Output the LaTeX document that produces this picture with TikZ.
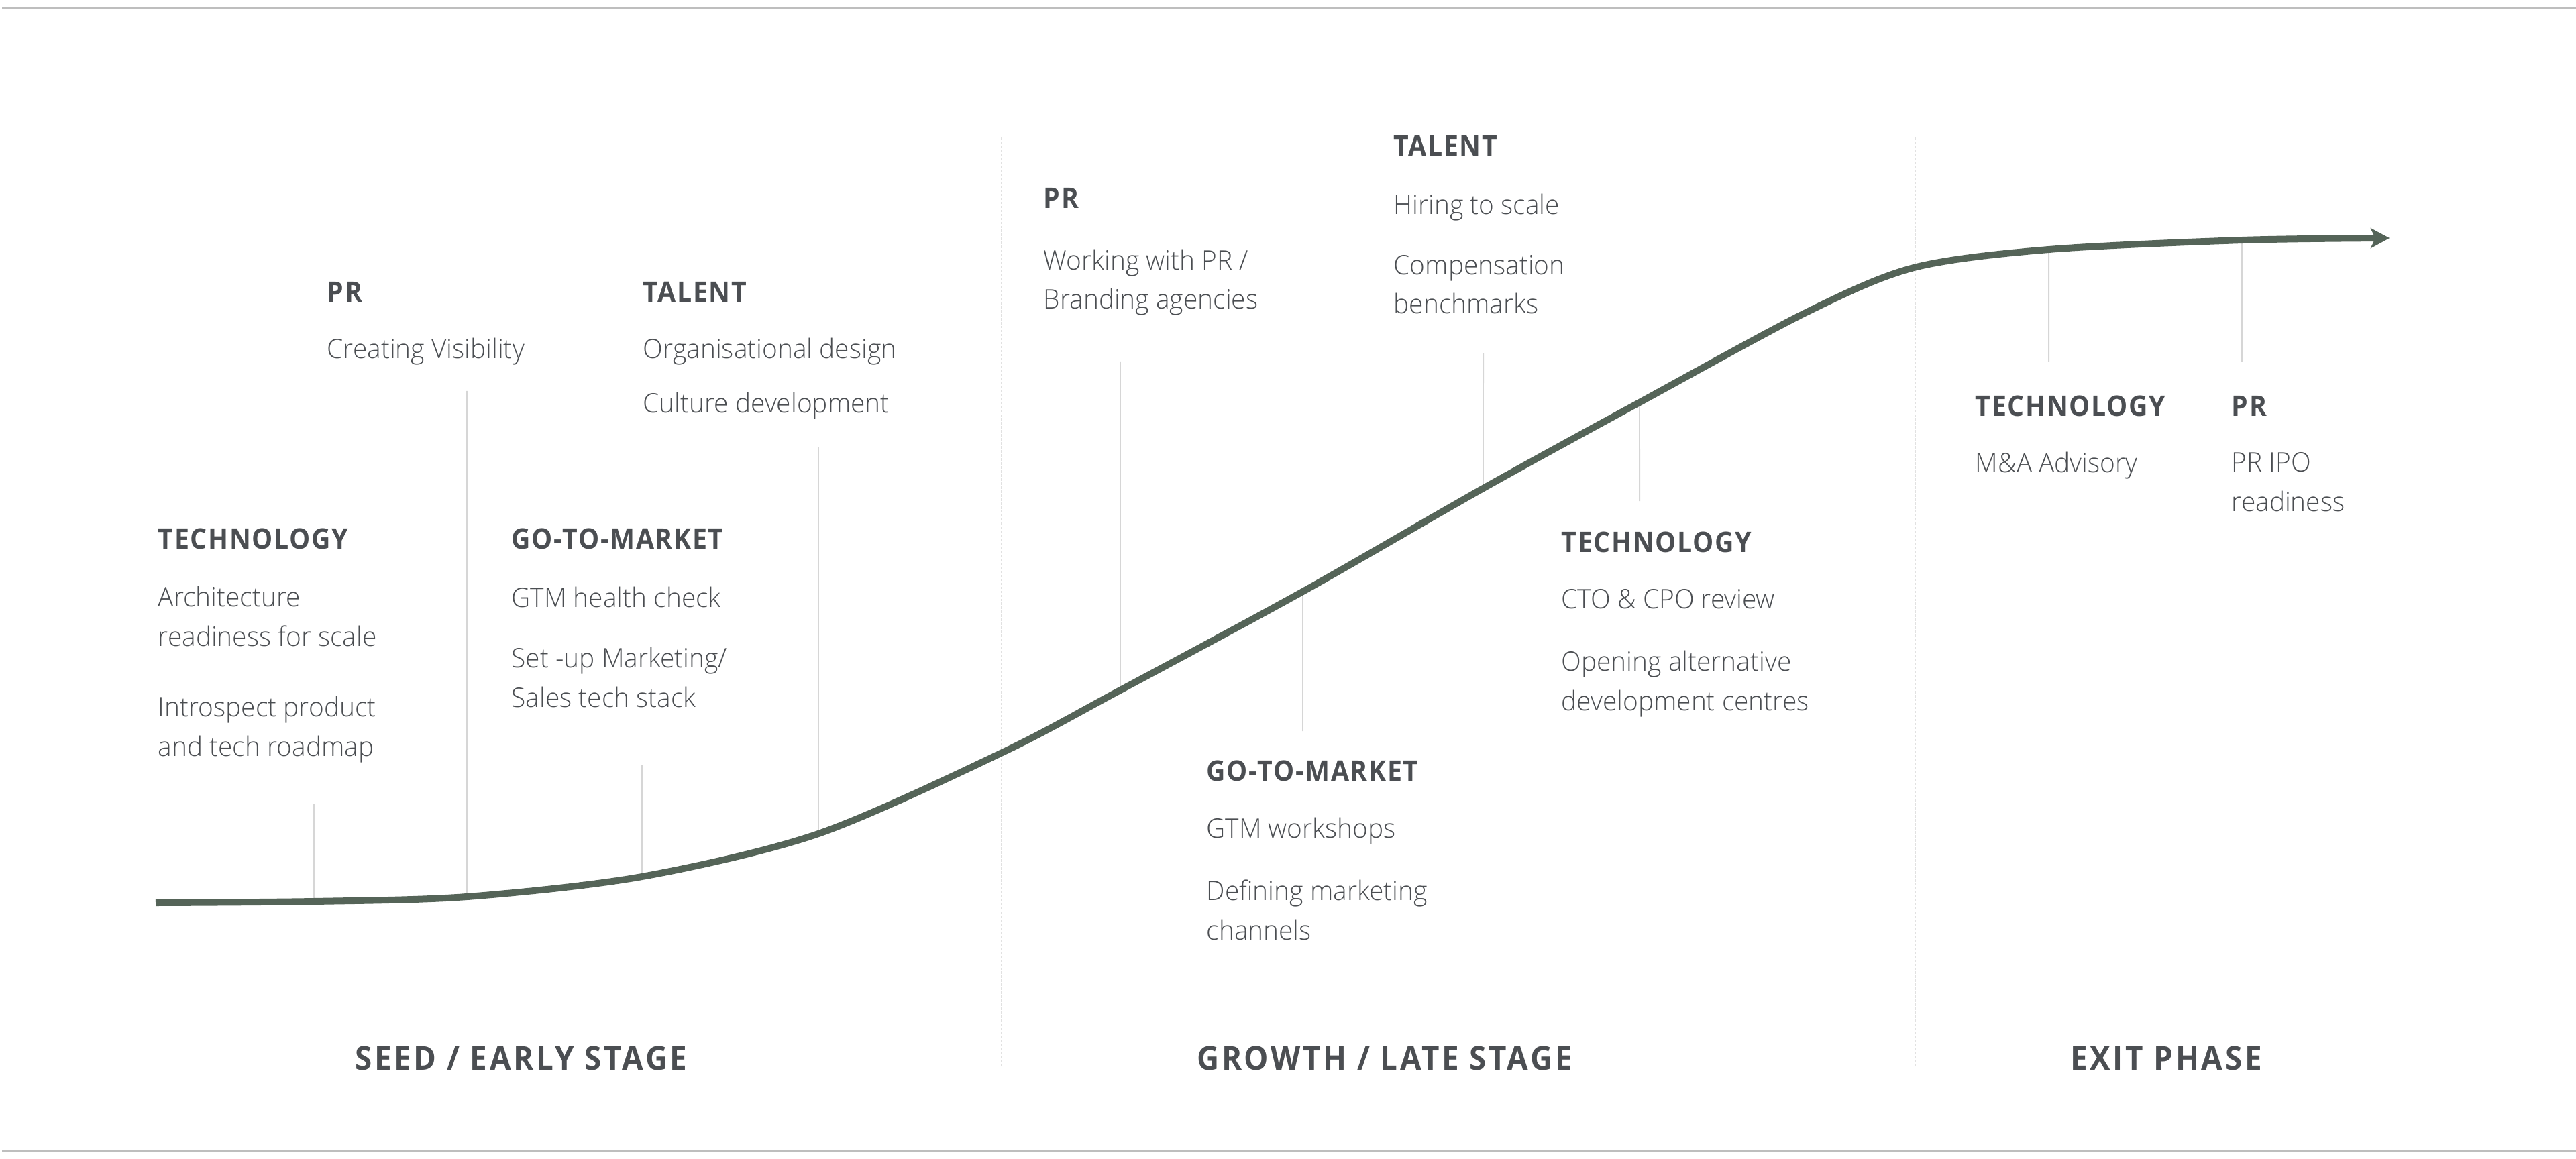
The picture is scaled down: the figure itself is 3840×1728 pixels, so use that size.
\documentclass[tikz,border=0pt]{standalone}
\usepackage{fontspec}
\IfFontExistsTF{Open Sans Light}
  {\setmainfont{Open Sans Light}[FakeStretch=0.97]}
  {\setmainfont{Open Sans}[FakeStretch=0.93]}
\newfontfamily\headfont{Open Sans}[FakeStretch=0.93,LetterSpace=4]
\newfontfamily\phasefont{Open Sans}[FakeStretch=0.93,LetterSpace=7.5]
\usetikzlibrary{arrows.meta,intersections,backgrounds}
\definecolor{txt}{RGB}{75,78,82}
\definecolor{curvec}{RGB}{85,100,88}
\definecolor{tickc}{RGB}{214,214,214}
\definecolor{divc}{RGB}{225,225,225}
\definecolor{rulec}{RGB}{190,190,190}
\begin{document}
\begin{tikzpicture}[x=0.01cm,y=-0.01cm,
  head/.style={anchor=base west, inner sep=0pt, text=txt, font=\headfont\bfseries\fontsize{12}{14}\selectfont},
  item/.style={anchor=base west, inner sep=0pt, text=txt, align=left, font=\fontsize{11.4}{16.5}\selectfont},
  phase/.style={anchor=base, inner sep=0pt, text=txt, font=\phasefont\bfseries\fontsize{14}{16}\selectfont},
  tickline/.style={draw=tickc, line width=0.55pt},
  divider/.style={draw=divc, line width=0.6pt, dash pattern=on 1pt off 0.7pt},
  rule/.style={draw=rulec, line width=0.85pt},
  scurve/.style={draw=curvec, line width=2.85pt, -{Stealth[length=8pt,width=8.5pt,inset=2pt]}}]
\useasboundingbox (0,0) rectangle (3840,1728);
% rules
\coordinate (rtl) at (3,13); \coordinate (rtr) at (3840,13);
\coordinate (rbl) at (3,1716); \coordinate (rbr) at (3840,1716);
\draw[rule] (rtl) -- (rtr);
\draw[rule] (rbl) -- (rbr);
% phase dividers
\coordinate (d1t) at (1493,205); \coordinate (d1b) at (1493,1593);
\coordinate (d2t) at (2855,205); \coordinate (d2b) at (2855,1593);
\draw[divider] (d1t) -- (d1b);
\draw[divider] (d2t) -- (d2b);
% curve
\draw[scurve, name path=curve] plot[smooth] coordinates {(232,1346) (468,1344) (696,1337) (957,1307) (1220,1243) (1494,1122) (1670,1029) (1942,882) (2211,728) (2444,600) (2694,465) (2853,399) (3054,372) (3343,358) (3562,355)};
% ticks
\foreach \x/\ya/\n in {468/1199/1, 696/583/2, 957/1141/3, 1220/666/4, 1670/539/5, 1942/1090/6, 2211/527/7, 2444/747/8, 3054/539/9, 3342/540/10} {
  \coordinate (te\n) at (\x,\ya);
  \path[name path=vl\n] (\x,0) -- (\x,1728);
  \path[name intersections={of=curve and vl\n, by={tc\n}}];
  \begin{scope}[on background layer]
    \draw[tickline] (te\n) -- (tc\n);
  \end{scope}
}
% texts (multi-line nodes are placed by the baseline of their last line)
\node[head] (h1) at (235,818) {TECHNOLOGY};
\node[item] (i1a) at (235,963) {Architecture\\readiness for scale};
\node[item] (i1b) at (235,1127) {Introspect product\\and tech roadmap};
\node[head] (h2) at (487,451) {PR};
\node[item] (i2a) at (487,535) {Creating Visibility};
\node[head] (h3) at (958,451) {TALENT};
\node[item] (i3a) at (958,535) {Organisational design};
\node[item] (i3b) at (958,616) {Culture development};
\node[head] (h4) at (762,818) {GO-TO-MARKET};
\node[item] (i4a) at (762,905) {GTM health check};
\node[item] (i4b) at (762,1054) {Set -up Marketing/\\Sales tech stack};
\node[head] (h5) at (1555,311) {PR};
\node[item] (i5a) at (1555,461) {Working with PR /\\Branding agencies};
\node[head] (h6) at (2077,233) {TALENT};
\node[item] (i6a) at (2077,320) {Hiring to scale};
\node[item] (i6b) at (2077,468) {Compensation\\benchmarks};
\node[head] (h7) at (2327,823) {TECHNOLOGY};
\node[item] (i7a) at (2327,907) {CTO \& CPO review};
\node[item] (i7b) at (2327,1059) {Opening alternative\\development centres};
\node[head] (h8) at (1798,1164) {GO-TO-MARKET};
\node[item] (i8a) at (1798,1249) {GTM workshops};
\node[item] (i8b) at (1798,1401) {Defining marketing\\channels};
\node[head] (h9) at (2944,620) {TECHNOLOGY};
\node[item] (i9a) at (2944,704) {M\&A Advisory};
\node[head] (h10) at (3326,620) {PR};
\node[item] (i10a) at (3326,762) {PR IPO\\readiness};
% phases
\node[phase] (p1) at (777,1595) {SEED / EARLY STAGE};
\node[phase] (p2) at (2064,1595) {GROWTH / LATE STAGE};
\node[phase] (p3) at (3229,1595) {EXIT PHASE};
\end{tikzpicture}
\end{document}
